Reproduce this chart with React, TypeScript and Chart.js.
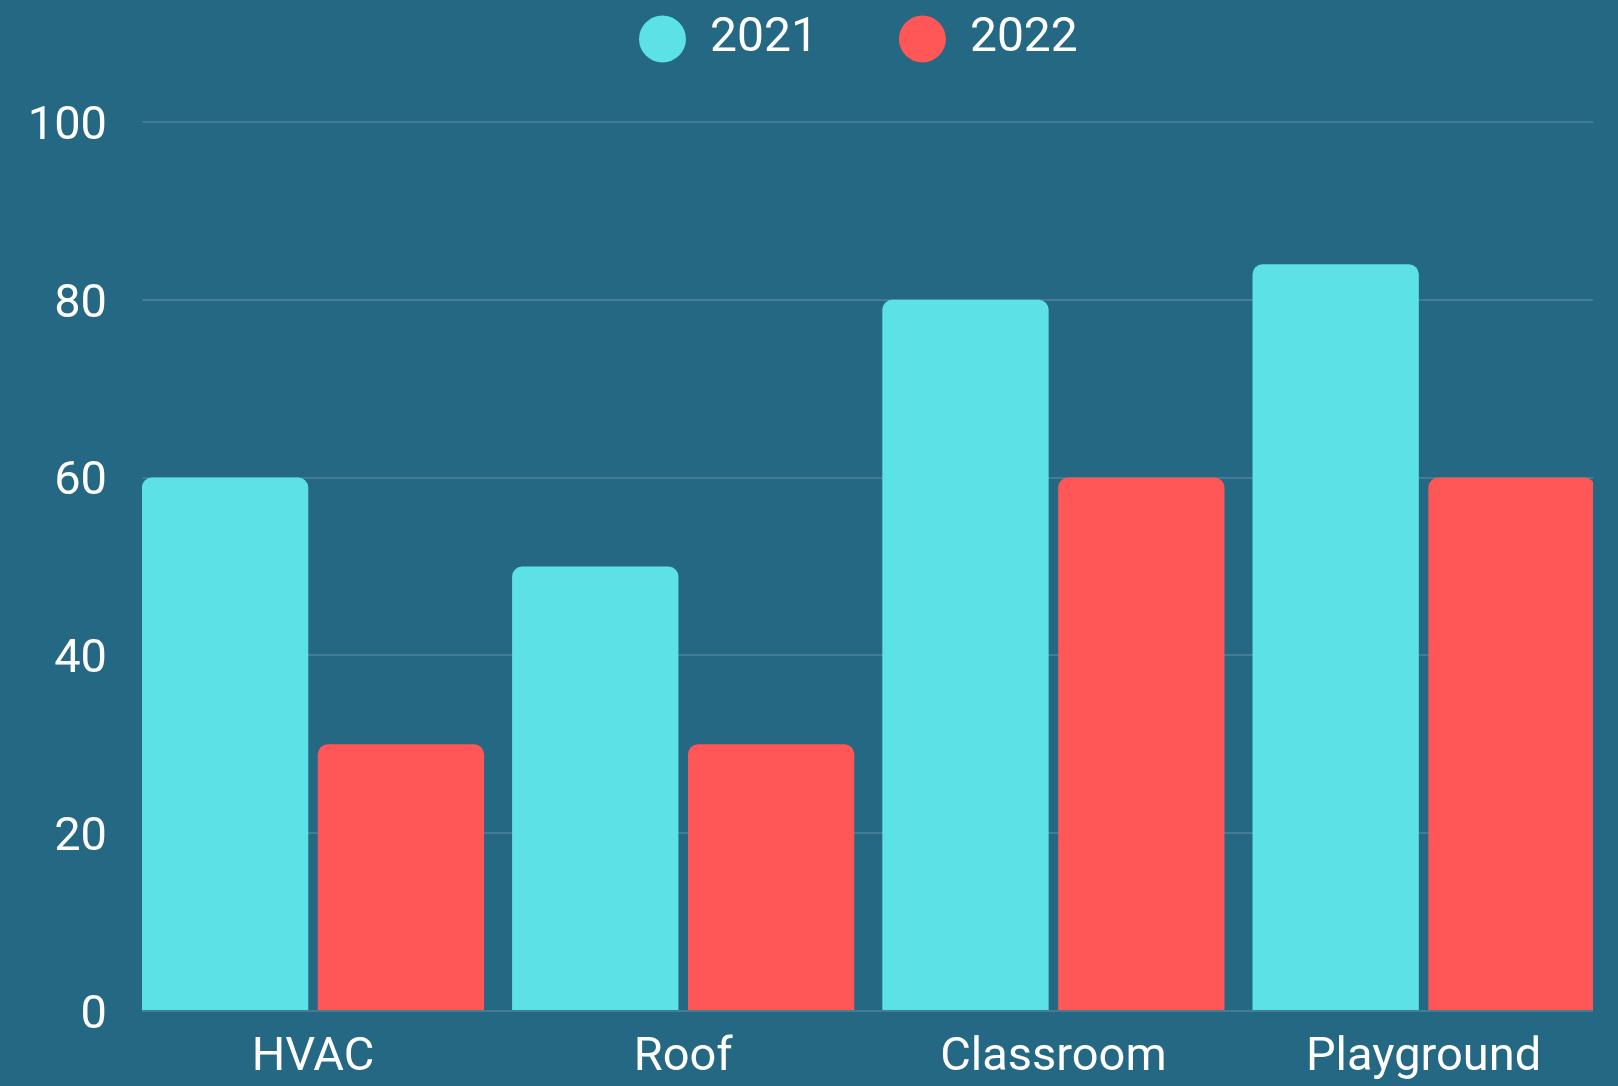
import React, { useEffect, useRef } from "react";
import { Chart, registerables } from "chart.js";

Chart.register(...registerables);

const categories = ["HVAC", "Roof", "Classroom", "Playground"];
const seriesLabels = ["2021", "2022"];
const values2021 = [60, 50, 80, 84];
const values2022 = [30, 30, 60, 60];
const yTicks = [0, 20, 40, 60, 80, 100];

const BG = "#256883";
const CYAN = "#5CE1E6";
const RED = "#FF5757";
const TEXT = "#FFFFFF";
const GRID = "rgba(255,255,255,0.14)";
const FONT = "Roboto";
const FONT_SIZE = 47;

const W = 1618;
const H = 1086;
const LEGEND_PAD = 81;

const legendLayout = {
  id: "legendLayout",
  beforeLayout(chart: any) {
    const lg = chart.legend;
    if (lg && !lg.__patched) {
      const orig = lg.fit;
      lg.fit = function () {
        orig.call(this);
        this.height = 122;
      };
      lg.__patched = true;
    }
  },
  afterLayout(chart: any) {
    const lg = chart.legend;
    if (!lg) return;
    lg.top = 15 - LEGEND_PAD;
    lg.left = 639 - LEGEND_PAD;
    lg.right = W;
  },
};

export default function App() {
  const ref = useRef<HTMLCanvasElement | null>(null);

  useEffect(() => {
    document.body.style.margin = "0";
    document.body.style.background = BG;
    document.documentElement.style.background = BG;
    const canvas = ref.current;
    if (!canvas) return;
    const chart = new Chart(canvas, {
      type: "bar",
      data: {
        datasets: [
          {
            label: seriesLabels[0],
            data: values2021.map((y, i) => ({ x: i, y })),
            backgroundColor: CYAN,
            borderWidth: 0,
            borderRadius: 10,
            categoryPercentage: 0.95,
            barPercentage: 0.946,
          },
          {
            label: seriesLabels[1],
            data: values2022.map((y, i) => ({ x: i, y })),
            backgroundColor: RED,
            borderWidth: 0,
            borderRadius: 10,
            categoryPercentage: 0.95,
            barPercentage: 0.946,
          },
        ],
      },
      options: {
        responsive: false,
        animation: false,
        layout: { padding: { left: 0, right: 25, top: 0, bottom: 0 } },
        plugins: {
          legend: {
            display: true,
            position: "top",
            align: "start",
            labels: {
              color: TEXT,
              font: { family: FONT, size: 48 },
              boxWidth: 47,
              boxHeight: 47,
              useBorderRadius: true,
              borderRadius: 23.5,
              padding: LEGEND_PAD,
            },
          },
          tooltip: { enabled: false },
        },
        scales: {
          x: {
            type: "linear",
            min: -0.4619,
            max: 3.4576,
            bounds: "data",
            offset: false,
            grid: { display: false, drawTicks: false },
            border: { display: false },
            afterBuildTicks: (scale: any) => {
              scale.ticks = categories.map((_, i) => ({ value: i }));
            },
            afterFit: (scale: any) => {
              scale.height = 75;
            },
            ticks: {
              color: TEXT,
              font: { family: FONT, size: FONT_SIZE },
              padding: 19,
              maxRotation: 0,
              autoSkip: false,
              callback: (value: any) => categories[Math.round(Number(value))] ?? "",
            },
          },
          y: {
            type: "linear",
            min: 0,
            max: 100,
            grid: { color: GRID, lineWidth: 2, drawTicks: false },
            border: { display: false },
            afterBuildTicks: (scale: any) => {
              scale.ticks = yTicks.map((v) => ({ value: v }));
            },
            afterFit: (scale: any) => {
              scale.width = 142;
            },
            ticks: {
              color: TEXT,
              font: { family: FONT, size: FONT_SIZE },
              padding: 35,
              labelOffset: 5,
            },
          },
        },
      } as any,
      plugins: [legendLayout as any],
    });
    return () => chart.destroy();
  }, []);

  return (
    <div style={{ width: W, height: H, background: BG }}>
      <canvas ref={ref} width={W} height={H} style={{ display: "block" }} />
    </div>
  );
}
